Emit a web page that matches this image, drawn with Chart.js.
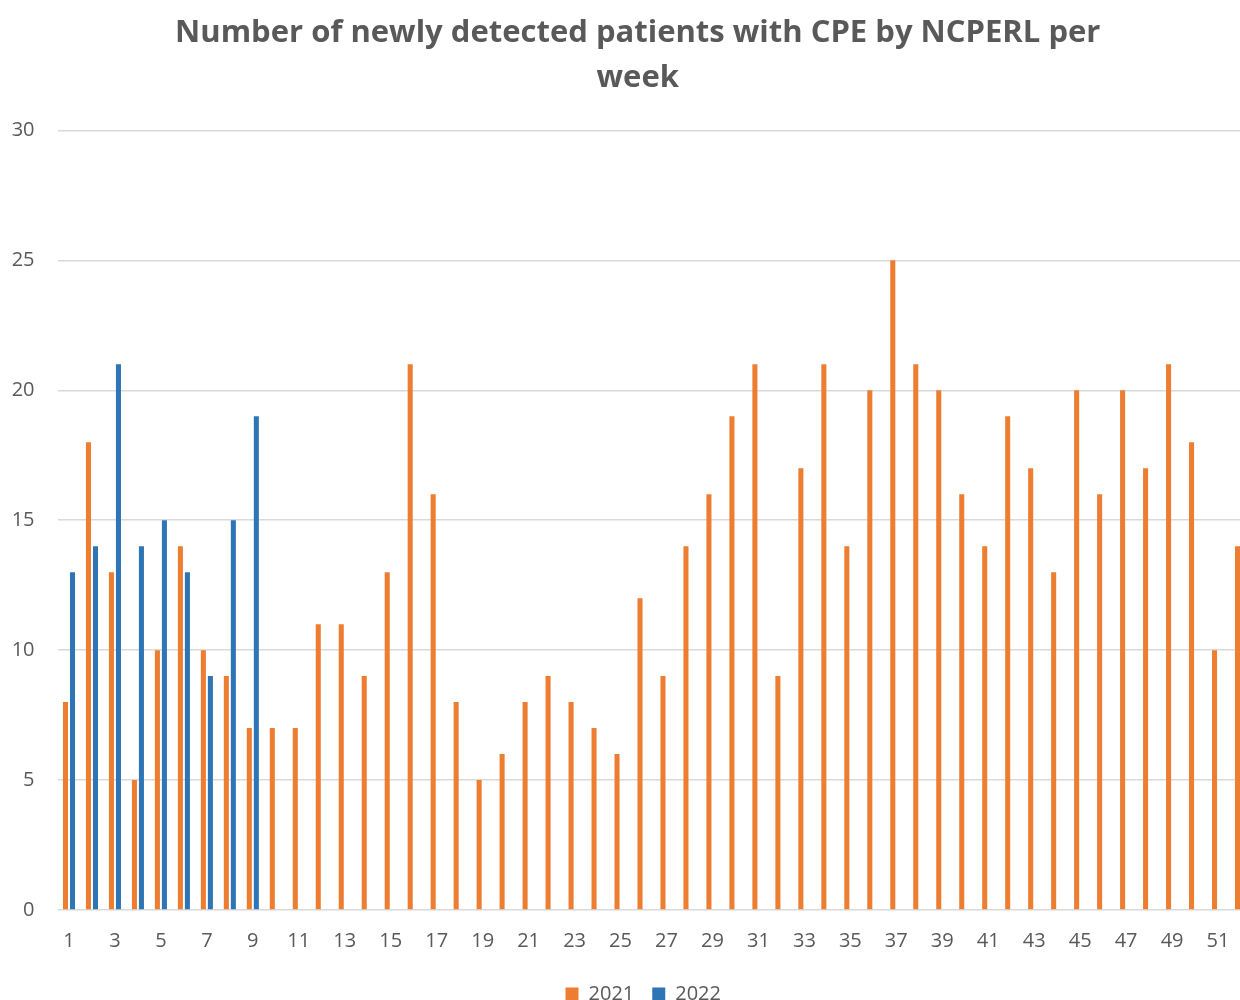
<!DOCTYPE html>
<html>
<head>
<meta charset="utf-8">
<script src="https://cdn.jsdelivr.net/npm/chart.js@4"></script>
<style>
    html, body { margin: 0; padding: 0; overflow: hidden; background: #fff; }
    #wrap { width: 1276px; height: 1014px; }
</style>
</head>
<body>
<div id="wrap"><canvas id="chart" width="1276" height="1014"></canvas></div>
<script>
// ==================== DATA ====================
const weeks = Array.from({ length: 52 }, (_, i) => String(i + 1));

const cases2021 = [
    8, 18, 13, 5, 10, 14, 10, 9, 7, 7,
    7, 11, 11, 9, 13, 21, 16, 8, 5, 6,
    8, 9, 8, 7, 6, 12, 9, 14, 16, 19,
    21, 9, 17, 21, 14, 20, 25, 21, 20, 16,
    14, 19, 17, 13, 20, 16, 20, 17, 21, 18,
    10, 14
];

const cases2022 = [13, 14, 21, 14, 15, 13, 9, 15, 19];

const yTicks = [0, 5, 10, 15, 20, 25, 30];

const TEXT = '#595959';
const GRID = '#d9d9d9';
const FONT = "'Open Sans', 'Liberation Sans', sans-serif";

// the plot area is cut at the right edge, so title/legend are nudged to stay centred on the page
const nudgeBlocks = {
    id: 'nudgeBlocks',
    afterLayout(chart) {
        if (chart.titleBlock) { chart.titleBlock.left += 11.5; chart.titleBlock.right += 11.5; }
        if (chart.legend) { chart.legend.left += 17; chart.legend.right += 17; }
    }
};

// ==================== CHART ====================
const el = document.getElementById('chart');
new Chart(el, {
    type: 'bar',
    data: {
        labels: weeks,
        datasets: [
            {
                label: '2021',
                data: cases2021,
                backgroundColor: '#ED7D31',
                borderWidth: 0,
                categoryPercentage: 0.61,
                barPercentage: 0.72,
            },
            {
                label: '2022',
                data: cases2022,
                backgroundColor: '#2E75B6',
                borderWidth: 0,
                categoryPercentage: 0.61,
                barPercentage: 0.72,
            },
        ]
    },
    options: {
        responsive: false,
        animation: false,
        layout: { padding: { left: 0, right: 23.5, top: 0, bottom: 0 } },
        plugins: {
            title: {
                display: true,
                text: ['Number of newly detected patients with CPE by NCPERL per', 'week'],
                color: TEXT,
                font: { family: FONT, size: 31, weight: 'bold', lineHeight: 1.45 },
                padding: { top: 11, bottom: 29.5 },
            },
            legend: {
                position: 'bottom',
                labels: {
                    color: TEXT,
                    font: { family: FONT, size: 20 },
                    boxWidth: 13,
                    boxHeight: 13,
                    padding: 18,
                },
            },
            tooltip: { enabled: false },
        },
        scales: {
            x: {
                grid: { display: false },
                border: { display: false },
                ticks: {
                    color: TEXT,
                    font: { family: FONT, size: 20 },
                    autoSkip: false,
                    maxRotation: 0,
                    padding: 11,
                    callback: (v, i) => (i % 2 === 0 ? weeks[i] : ''),
                },
                afterFit: (scale) => { scale.height = 56; },
            },
            y: {
                min: 0,
                max: 30,
                afterBuildTicks: (scale) => { scale.ticks = yTicks.map(v => ({ value: v })); },
                grid: { color: GRID, lineWidth: 1.5, drawTicks: false },
                border: { display: false },
                ticks: {
                    color: TEXT,
                    font: { family: FONT, size: 20 },
                    padding: 23,
                },
                afterFit: (scale) => { scale.width = 57.5; },
            },
        },
    },
    plugins: [nudgeBlocks]
});
</script>
</body>
</html>
